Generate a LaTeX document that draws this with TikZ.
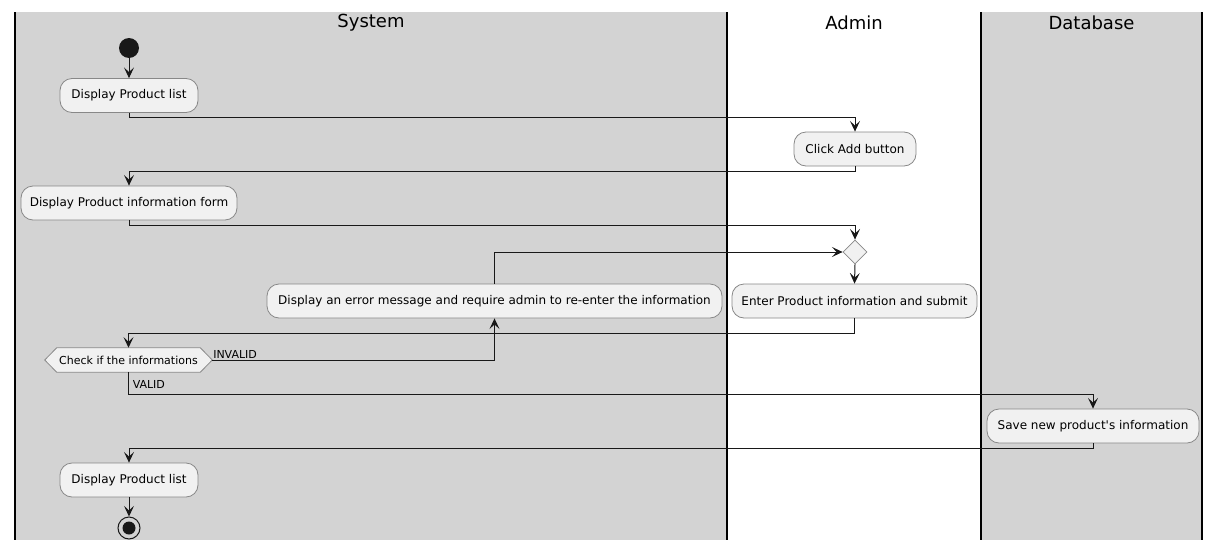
\documentclass[tikz,border=0pt]{standalone}
\usepackage{fontspec}
\setmainfont{DejaVu Sans}
\newfontfamily\dvplain{DejaVu Sans}
\usetikzlibrary{shapes.geometric,arrows.meta}
\definecolor{lanegrey}{HTML}{D3D3D3}
\definecolor{boxfill}{HTML}{F1F1F1}
\definecolor{boxline}{HTML}{888888}
\definecolor{ink}{HTML}{181818}
\tikzset{
  act/.style={draw=boxline, fill=boxfill, line width=0.6pt, rounded corners=9pt, inner sep=0pt, minimum height=34*0.75pt, font=\dvplain\fontsize{9}{11}\selectfont, text=black, anchor=center},
  arr/.style={draw=ink, line width=0.75pt, -{Stealth[length=8pt,width=7.5pt,inset=3.5pt]}},
  conn/.style={draw=ink, line width=0.75pt},
  lanetitle/.style={font=\fontsize{13.5}{16}\selectfont, text=black},
  lbl/.style={font=\fontsize{8.25}{10}\selectfont, text=black, inner sep=0pt, anchor=west},
  laneline/.style={draw=black, line width=1.1pt}
}
\begin{document}
\begin{tikzpicture}[x=0.75pt,y=-0.75pt]
\useasboundingbox (0,0) rectangle (1221,550);
\fill[white] (0,0) rectangle (1221,550);
% lanes
\fill[lanegrey] (15,12) rectangle (727,540);
\fill[lanegrey] (981,12) rectangle (1202,540);
\draw[laneline] (15,12) -- (15,540);
\draw[laneline] (727,12) -- (727,540);
\draw[laneline] (981,12) -- (981,540);
\draw[laneline] (1202,12) -- (1202,540);
\node[lanetitle] (tsys) at (371,23) {System};
\node[lanetitle] (tadm) at (854,23) {Admin};
\node[lanetitle] (tdb) at (1091.5,23) {Database};
% nodes
\node[circle, fill=ink, minimum size=20*0.75pt, inner sep=0pt] (start) at (129,48) {};
\node[act, minimum width=138*0.75pt] (dpl) at (129,95.5) {Display Product list};
\node[act, minimum width=122*0.75pt] (click) at (855,149) {Click Add button};
\node[act, minimum width=216*0.75pt] (form) at (129,203) {Display Product information form};
\node[diamond, draw=boxline, fill=boxfill, line width=0.6pt, inner sep=0pt, minimum width=24*0.75pt, minimum height=24*0.75pt] (dia) at (855,252) {};
\node[act, minimum width=245*0.75pt] (enter) at (854.5,301) {Enter Product information and submit};
\node[act, minimum width=455*0.75pt] (err) at (494.5,301) {Display an error message and require admin to re-enter the information};
\node[inner sep=0pt, minimum width=167*0.75pt, minimum height=24*0.75pt, font=\fontsize{8.25}{10}\selectfont] (check) at (128.5,360) {};
\draw[draw=boxline, fill=boxfill, line width=0.6pt] (check.west) -- ([xshift=12*0.75pt]check.north west) -- ([xshift=-12*0.75pt]check.north east) -- (check.east) -- ([xshift=-12*0.75pt]check.south east) -- ([xshift=12*0.75pt]check.south west) -- cycle;
\node[font=\fontsize{8.25}{10}\selectfont, inner sep=0pt] (checktext) at (check.center) {Check if the informations};
\node[act, minimum width=212*0.75pt] (save) at (1093,426) {Save new product's information};
\node[act, minimum width=138*0.75pt] (dpl2) at (129,480) {Display Product list};
\node[circle, draw=ink, line width=0.75pt, minimum size=22*0.75pt, inner sep=0pt] (stop) at (129,528) {};
\node[circle, fill=ink, minimum size=13*0.75pt, inner sep=0pt] (stopin) at (stop.center) {};
% connectors
\draw[arr] (start) -- (dpl.north);
\draw[arr] (dpl.south) -- ++(0,5) -| (click.north);
\draw[arr] (click.south) -- ++(0,5) -| (form.north);
\draw[arr] (form.south) -- ++(0,5) -| (dia.north);
\draw[arr] (dia.south) -- (enter.north);
\draw[arr] (enter.south) -- ++(0,15) -| (check.north);
\draw[arr] (check.east) -| (err.south);
\draw[arr] (err.north) |- (dia.west);
\draw[arr] (check.south) -- ++(0,22) -| (save.north);
\draw[arr] (save.south) -- ++(0,5) -| (dpl2.north);
\draw[arr] (dpl2.south) -- (stop.north);
% labels
\node[lbl] (linvalid) at (213,354) {INVALID};
\node[lbl] (lvalid) at (132.5,384) {VALID};
\end{tikzpicture}
\end{document}
